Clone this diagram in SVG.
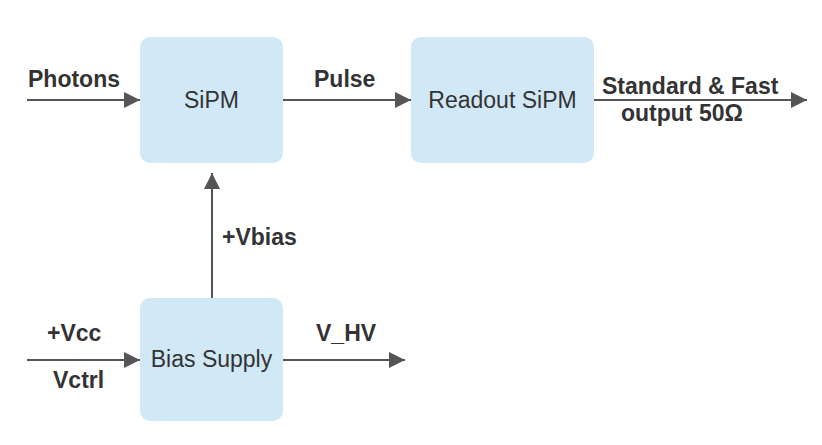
<svg xmlns="http://www.w3.org/2000/svg" width="822" height="445" viewBox="0 0 822 445">
<style>
.box{fill:#d1e8f6;stroke:none}
.lbl{font-family:"Liberation Sans",Arial,sans-serif;font-size:23px;fill:#333;text-anchor:middle}
.edge{font-family:"Liberation Sans",Arial,sans-serif;font-size:23px;font-weight:bold;fill:#333}
.ln{stroke:#555;stroke-width:2;fill:none;marker-end:url(#ah)}
</style>
<defs>
<marker id="ah" markerWidth="16" markerHeight="16" refX="16" refY="8" orient="auto" markerUnits="userSpaceOnUse">
<path d="M0,0 L16,8 L0,16 Z" fill="#555"/>
</marker>
</defs>
<rect width="822" height="445" fill="#fff"/>
<g id="sipm"><rect class="box" x="140" y="37" width="143" height="126" rx="10"/><text class="lbl" x="211.5" y="108">SiPM</text></g>
<g id="readout"><rect class="box" x="411" y="37" width="183" height="126" rx="10"/><text class="lbl" x="502.5" y="108">Readout SiPM</text></g>
<g id="bias"><rect class="box" x="140" y="298" width="143" height="123" rx="10"/><text class="lbl" x="211.5" y="367">Bias Supply</text></g>
<g id="connectors">
<line class="ln" x1="27" y1="100" x2="140" y2="100"/>
<line class="ln" x1="283" y1="100" x2="411" y2="100"/>
<line class="ln" x1="594" y1="100" x2="807" y2="100"/>
<line class="ln" x1="212" y1="298" x2="212" y2="173"/>
<line class="ln" x1="27" y1="360" x2="140" y2="360"/>
<line class="ln" x1="283" y1="360" x2="405" y2="360"/>
<text class="edge" x="28" y="87">Photons</text>
<text class="edge" x="314" y="87">Pulse</text>
<text class="edge" x="602" y="94">Standard &amp; Fast</text>
<text class="edge" x="621" y="121">output 50Ω</text>
<text class="edge" x="222" y="245">+Vbias</text>
<text class="edge" x="47" y="341">+Vcc</text>
<text class="edge" x="53" y="388">Vctrl</text>
<text class="edge" x="316" y="341">V_HV</text>
</g>
</svg>
